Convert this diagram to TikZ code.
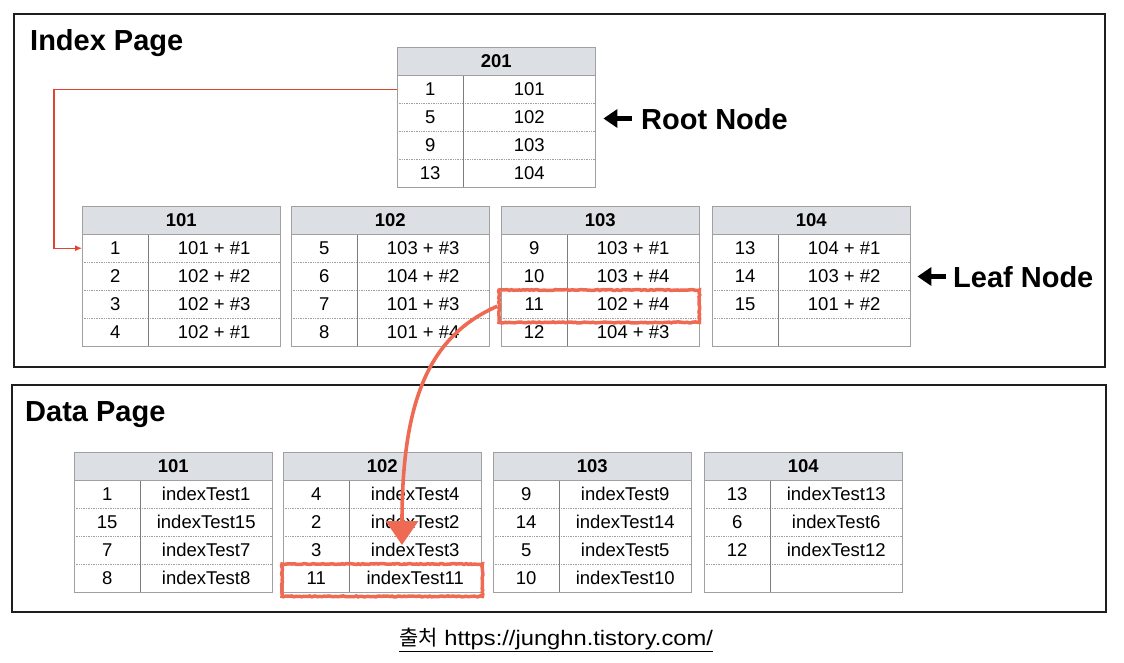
\documentclass[tikz,border=0pt]{standalone}
\usepackage{fontspec}
\setmainfont{Liberation Sans}
\newfontfamily\cjkfont{Noto Sans CJK KR}
\newfontfamily\srcfont[FakeStretch=1.13]{Liberation Sans}
\usetikzlibrary{arrows.meta,fit,decorations.pathmorphing,calc}

\definecolor{hdrgray}{HTML}{DCDFE3}
\definecolor{gridgray}{HTML}{A0A0A0}
\definecolor{divgray}{HTML}{7C7C7C}
\definecolor{linkred}{HTML}{E2452F}
\definecolor{hlorange}{HTML}{EE6A52}
\definecolor{framegray}{HTML}{1E1E1E}

\tikzset{
  celltext/.style={font=\fontsize{18.5}{20}\selectfont, inner sep=0pt,
    text height=13.3pt, text depth=0pt, minimum height=28pt},
  hdrcell/.style={celltext, font=\fontsize{18.5}{20}\selectfont\bfseries,
    fill=hdrgray, minimum width=198pt, anchor=north west},
  keycell/.style={celltext, minimum width=66pt, anchor=north west},
  valcell/.style={celltext, minimum width=132pt, anchor=north west},
  tabframe/.style={draw=gridgray, line width=0.8pt},
  rowsep/.style={draw=gridgray, line width=0.7pt, densely dotted},
  colsep/.style={draw=divgray, line width=0.8pt},
  pageframe/.style={draw=framegray, line width=2pt},
  title/.style={font=\fontsize{29}{32}\selectfont\bfseries, inner sep=0pt,
    text height=21pt, text depth=0pt, anchor=base west},
  linkline/.style={draw=linkred, line width=1.1pt, -{Latex[length=7pt,width=6pt]}},
  lblarrow/.style={draw=black, line width=4.5pt, -{Triangle[length=14pt,width=18pt]}},
  hlbox/.style={draw=hlorange, line width=3.5pt, inner xsep=1pt, inner ysep=2pt,
    decorate, decoration={random steps, segment length=2pt, amplitude=0.5pt}},
  hlarrow/.style={draw=hlorange, line width=3.6pt, -{Triangle[length=24pt,width=32pt]}},
}

% #1 name, #2 left, #3 top, #4 header, #5 key/value rows
\newcommand\dbtable[5]{%
  \node[hdrcell] (#1) at (#2,#3) {#4};
  \foreach \k/\v [count=\i] in {#5} {
    \node[keycell] (#1-\i) at (#2,#3+28*\i) {\k};
    \node[valcell] (#1-\i v) at (#2+66,#3+28*\i) {\v};
  }
  \foreach \j in {2,3,4} \draw[rowsep] (#2,#3+28*\j) -- ++(198,0);
  \draw[colsep] (#2+66,#3+28) -- (#2+66,#3+140);
  \draw[tabframe] (#2,#3) rectangle (#2+198,#3+140);
  \draw[tabframe] (#2,#3+28) -- ++(198,0);
}

\begin{document}
\begin{tikzpicture}[x=1pt,y=-1pt]
\useasboundingbox (0,0) rectangle (1124,662);

% page frames
\draw[pageframe] (14,14) rectangle (1105,367);
\draw[pageframe] (12,385) rectangle (1106,612);
\node[title] (ititle) at (30,50) {Index Page};
\node[title] (dtitle) at (25,421) {Data Page};

% root node
\dbtable{r}{397}{47}{201}{1/101, 5/102, 9/103, 13/104}

% leaf nodes
\dbtable{l101}{82}{206}{101}{1/101 + \#1, 2/102 + \#2, 3/102 + \#3, 4/102 + \#1}
\dbtable{l102}{291}{206}{102}{5/103 + \#3, 6/104 + \#2, 7/101 + \#3, 8/101 + \#4}
\dbtable{l103}{501}{206}{103}{9/103 + \#1, 10/103 + \#4, 11/102 + \#4, 12/104 + \#3}
\dbtable{l104}{712}{206}{104}{13/104 + \#1, 14/103 + \#2, 15/101 + \#2, {}/{}}

% data pages
\dbtable{d101}{74}{452}{101}{1/indexTest1, 15/indexTest15, 7/indexTest7, 8/indexTest8}
\dbtable{d102}{283}{452}{102}{4/indexTest4, 2/indexTest2, 3/indexTest3, 11/indexTest11}
\dbtable{d103}{493}{452}{103}{9/indexTest9, 14/indexTest14, 5/indexTest5, 10/indexTest10}
\dbtable{d104}{704}{452}{104}{13/indexTest13, 6/indexTest6, 12/indexTest12, {}/{}}

% labels
\node[title] (rootlbl) at (641,129) {Root Node};
\node[title] (leaflbl) at (953,287) {Leaf Node};
\draw[lblarrow, shorten <=9pt, shorten >=8pt] (rootlbl.west) -- (rootlbl.west -| r.east);
\draw[lblarrow, shorten <=7pt, shorten >=7pt] (leaflbl.west) -- (leaflbl.west -| l104.east);

% root -> leaf link
\coordinate (elbow) at (54,0);
\draw[linkline] (r-1.west) -- (r-1.west -| elbow) |- (l101-1.west);

% highlighted lookup
\node[hlbox, fit=(l103-3)(l103-3v), yshift=-2pt, xshift=-1pt] (hl1) {};
\node[hlbox, fit=(d102-4)(d102-4v), yshift=-2pt] (hl2) {};
\coordinate (atip) at (402,545);
\draw[hlarrow] (hl1.west) .. controls (432,335) and (402,395) .. (atip);

% source
\node[anchor=base, inner sep=0pt, font=\srcfont\fontsize{21}{24}\selectfont] (src) at (556,645)
  {\underline{{\cjkfont 출처} https://junghn.tistory.com/}};
\end{tikzpicture}
\end{document}
